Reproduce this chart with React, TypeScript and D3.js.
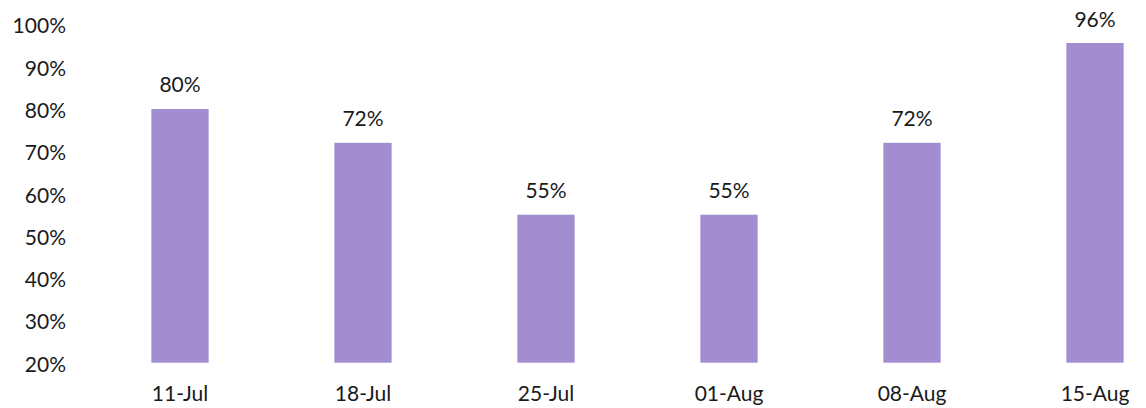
import React from "react";
import * as d3 from "d3";

const categories = ["11-Jul", "18-Jul", "25-Jul", "01-Aug", "08-Aug", "15-Aug"];
const values = [80, 72, 55, 55, 72, 95.6];
const yTicks = [20, 30, 40, 50, 60, 70, 80, 90, 100];

const W = 1146;
const H = 408;
const FONT = "Lato, 'Noto Sans', sans-serif";

export default function App() {
  const x = d3.scaleBand<string>().domain(categories).range([88.5, 1186.5]).paddingInner(0.687).paddingOuter(0.3435);
  const y = d3.scaleLinear().domain([20, 100]).range([362.7, 24.4]);

  return (
    <div style={{ position: "absolute", left: 0, top: 0 }}>
      <svg width={W} height={H} style={{ display: "block" }}>
        <rect width={W} height={H} fill="#fff" />
        {yTicks.map((t) => (
          <text key={t} x={66} y={y(t) + 9} textAnchor="end" fontFamily={FONT} fontSize={21} fill="#1a1a1a">
            {t}%
          </text>
        ))}
        {categories.map((c, i) => (
          <g key={c}>
            <rect x={x(c)} y={y(values[i])} width={x.bandwidth()} height={y(20) - y(values[i])} fill="#a18dd0" />
            <text x={(x(c) as number) + x.bandwidth() / 2} y={y(values[i]) - 16.5} textAnchor="middle" fontFamily={FONT} fontSize={21} fill="#1a1a1a">
              {Math.round(values[i])}%
            </text>
            <text x={(x(c) as number) + x.bandwidth() / 2} y={401} textAnchor="middle" fontFamily={FONT} fontSize={21} fill="#1a1a1a">
              {c}
            </text>
          </g>
        ))}
      </svg>
    </div>
  );
}
